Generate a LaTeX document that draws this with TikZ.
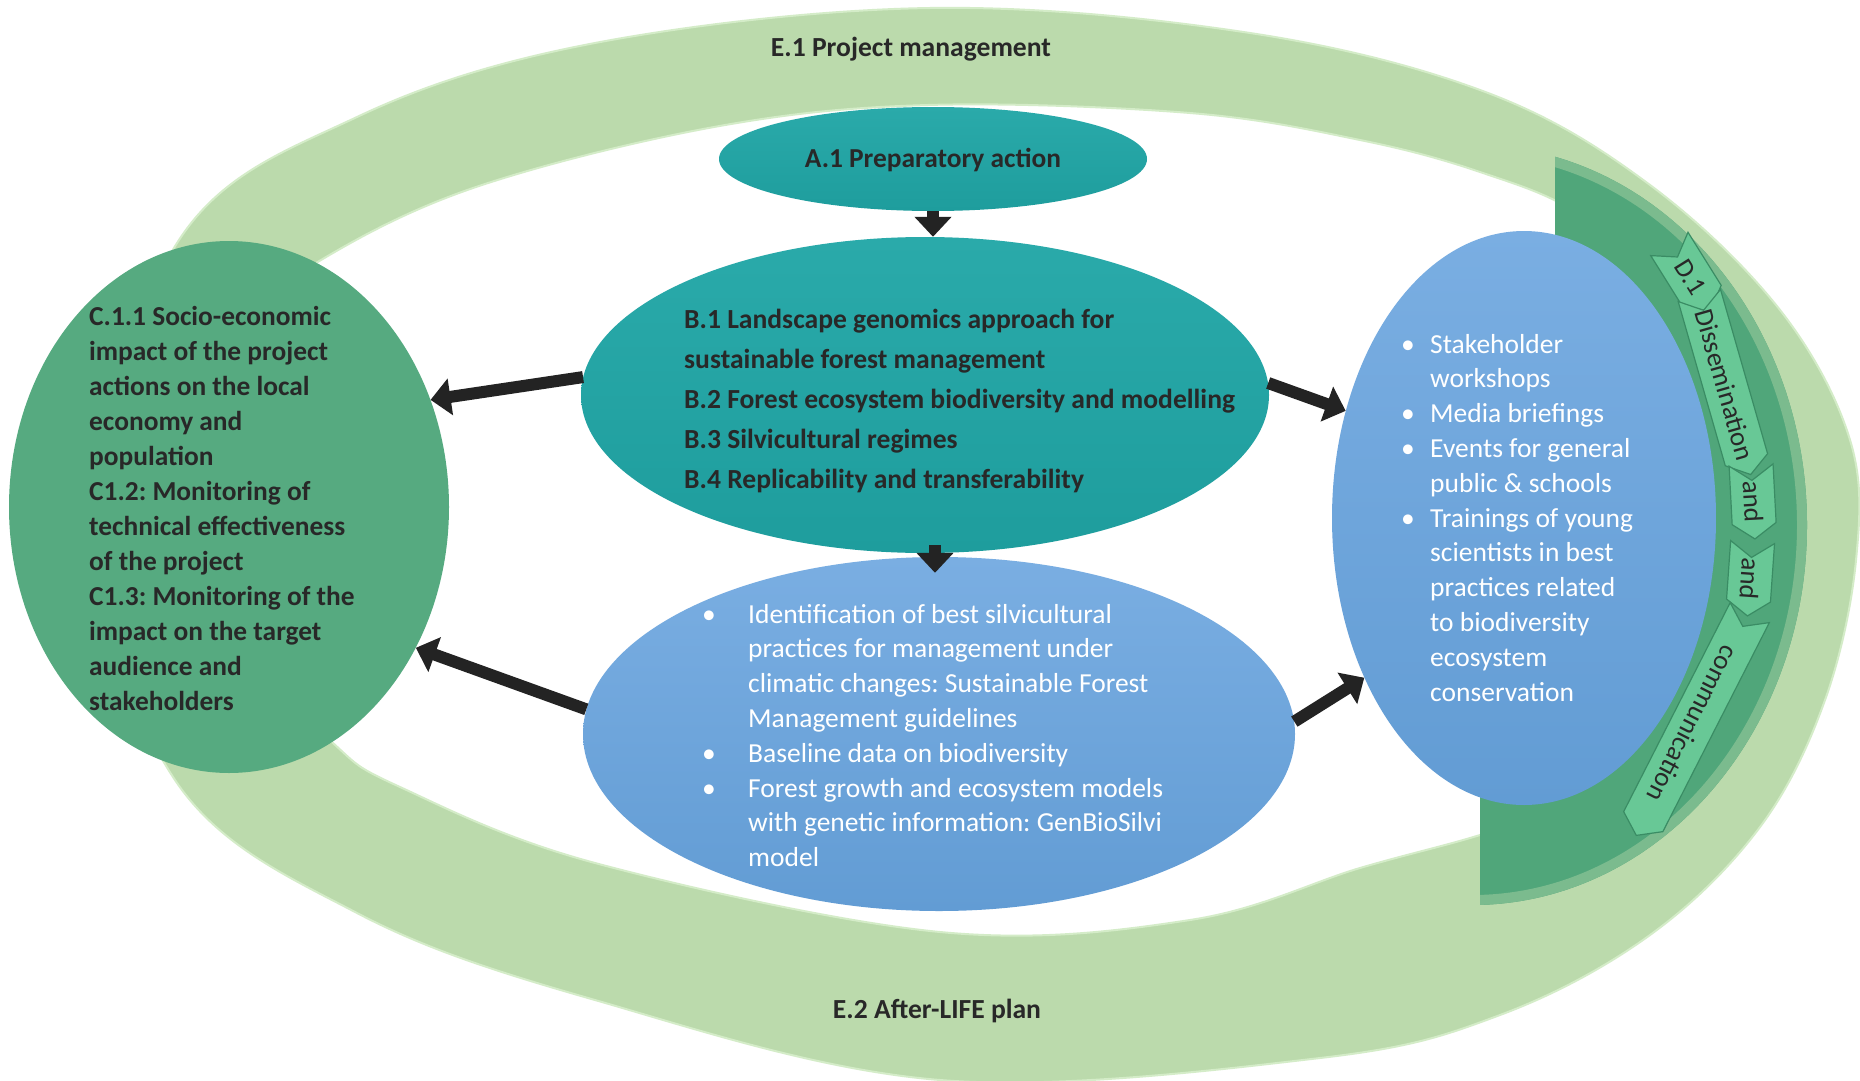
\documentclass[tikz,border=0pt]{standalone}
\usepackage{fontspec}
\setmainfont{Carlito}
\frenchspacing
\usetikzlibrary{shapes.geometric,shapes.symbols,arrows.meta,calc}
\definecolor{ringgreen}{RGB}{187,218,172}
\definecolor{ringedge}{RGB}{212,236,200}
\definecolor{darkband}{RGB}{80,166,122}
\definecolor{chev}{RGB}{104,200,150}
\definecolor{chevedge}{RGB}{58,140,100}
\definecolor{leftgreen}{RGB}{86,170,128}
\definecolor{tealtop}{RGB}{42,170,170}
\definecolor{tealbot}{RGB}{30,157,157}
\definecolor{bluetop}{RGB}{122,174,226}
\definecolor{bluebot}{RGB}{98,156,212}
\definecolor{txt}{RGB}{40,40,40}
\definecolor{arrowc}{RGB}{35,35,35}
\newcommand{\bul}[1]{\makebox[#1][l]{•}}
\newcommand{\myind}[1]{\hspace*{#1}}
\tikzset{
  oval/.style={ellipse, inner sep=0pt, draw=none},
  teal/.style={oval, top color=tealtop, bottom color=tealbot},
  blue/.style={oval, top color=bluetop, bottom color=bluebot},
  blk/.style={draw=arrowc, line width=12pt, -{Triangle[width=36pt,length=20pt]}},
  darktext/.style={inner sep=0pt, text=txt, align=left, font=\bfseries\fontsize{27.4}{35}\selectfont},
  whitetext/.style={inner sep=0pt, text=white, align=left, font=\fontsize{27.5}{34.8}\selectfont},
  chevron/.style={signal, signal from=west, signal to=east, signal pointer angle=110,
    fill=chev, draw=chevedge, line width=1.2pt, minimum height=44pt, inner sep=0pt,
    text=txt, font=\fontsize{27}{30}\selectfont},
  ringlabel/.style={inner sep=0pt, text=txt, font=\bfseries\fontsize{27.6}{30}\selectfont}
}
\begin{document}
\begin{tikzpicture}[x=1pt,y=-1pt]
\useasboundingbox (0,0) rectangle (1860,1081);
\fill[white] (0,0) rectangle (1860,1081);

% outer light-green ring
\path[fill=ringgreen, even odd rule, draw=ringedge, line width=2pt]
  plot[smooth cycle, tension=0.6] coordinates {
    (930,8) (1250,33) (1488,93) (1650,185) (1780,310) (1850,440) (1856,560)
    (1825,700) (1760,827) (1650,935) (1500,1015) (1320,1058) (940,1080)
    (595,1000) (357,913) (175,780) (95,520) (179,240) (357,117) (595,43)}
  plot[smooth cycle, tension=0.6] coordinates {
    (928,105) (1190,113) (1360,140) (1480,172) (1580,215) (1670,300) (1712,420)
    (1720,540) (1680,700) (1580,800) (1480,835) (1360,868) (1190,920) (940,932)
    (595,863) (400,787) (333,743) (250,650) (195,450) (235,330) (321,260) (476,187) (714,127)};

% dark green D.1 band
\begin{scope}
  \clip (1555,0) -- (1900,0) -- (1900,1100) -- (1480,1100) -- (1480,640) -- (1555,420) -- cycle;
  \fill[darkband] (1472,525) ellipse [x radius=335, y radius=380];
  \draw[darkband!60!ringgreen, line width=10pt] (1472,525) ellipse [x radius=330, y radius=375];
\end{scope}

% ring labels
\node[ringlabel, anchor=base] (E1) at (911,57) {E.1 Project management};
\node[ringlabel, anchor=base] (E2) at (937,1018) {E.2 After-LIFE plan};

% main shapes
\node[oval, fill=leftgreen, minimum width=440pt, minimum height=532pt] (L) at (229,507) {};
\node[teal, minimum width=428pt, minimum height=104pt] (A) at (933,159) {};
\node[teal, minimum width=688pt, minimum height=316pt] (B) at (925,395) {};
\node[blue, minimum width=712pt, minimum height=354pt] (Bot) at (939,734) {};
\node[blue, minimum width=384pt, minimum height=574pt] (R) at (1524,518) {};

% chevrons
\node[chevron, minimum width=78pt, rotate=-58] (D1) at (1690,277) {D.1};
\node[chevron, minimum width=182pt, rotate=-74] (D2) at (1725,385) {Dissemination};
\node[chevron, minimum width=74pt, rotate=-87] (D3) at (1753,502) {and};
\node[chevron, minimum width=74pt, rotate=-94] (D4) at (1750,579) {and};
\node[chevron, minimum width=250pt, rotate=-117] (D5) at (1693,724) {communication};

% arrows
\draw[blk] (A.south) -- (A.south |- B.north);
\draw[blk] ($(B.south)+(10,-8)$) -- ($(Bot.north)+(-4,16)$);
\draw[blk] (B.177.5) -- (L.28.6);
\draw[blk] (B.2) -- (R.149);
\draw[blk] (Bot.176) -- (L.-37.6);
\draw[blk] (Bot.2.4) -- (R.225);

% texts
\node[darktext, anchor=base] (Atext) at (933,167) {A.1 Preparatory action};

\node[darktext, anchor=north west] (Ltext) at (89,300.5) {\strut C.1.1 Socio-economic\\
impact of the project\\
actions on the local\\
economy and\\
population\\
C1.2: Monitoring of\\
technical effectiveness\\
of the project\\
C1.3: Monitoring of the\\
impact on the target\\
audience and\\
stakeholders};

\node[darktext, anchor=north west, font=\bfseries\fontsize{27.6}{40}\selectfont] (Btext) at (684,300) {\strut B.1 Landscape genomics approach for\\
sustainable forest management\\
B.2 Forest ecosystem biodiversity and modelling\\
B.3 Silvicultural regimes\\
B.4 Replicability and transferability};

\node[whitetext, anchor=north west] (Bottext) at (702,598.6) {\strut\bul{46pt}Identification of best silvicultural\\
\myind{46pt}practices for management under\\
\myind{46pt}climatic changes: Sustainable Forest\\
\myind{46pt}Management guidelines\\
\bul{46pt}Baseline data on biodiversity\\
\bul{46pt}Forest growth and ecosystem models\\
\myind{46pt}with genetic information: GenBioSilvi\\
\myind{46pt}model};

\node[whitetext, anchor=north west] (Rtext) at (1401,328.6) {\strut\bul{29pt}Stakeholder\\
\myind{29pt}workshops\\
\bul{29pt}Media briefings\\
\bul{29pt}Events for general\\
\myind{29pt}public \& schools\\
\bul{29pt}Trainings of young\\
\myind{29pt}scientists in best\\
\myind{29pt}practices related\\
\myind{29pt}to biodiversity\\
\myind{29pt}ecosystem\\
\myind{29pt}conservation};
\end{tikzpicture}
\end{document}
